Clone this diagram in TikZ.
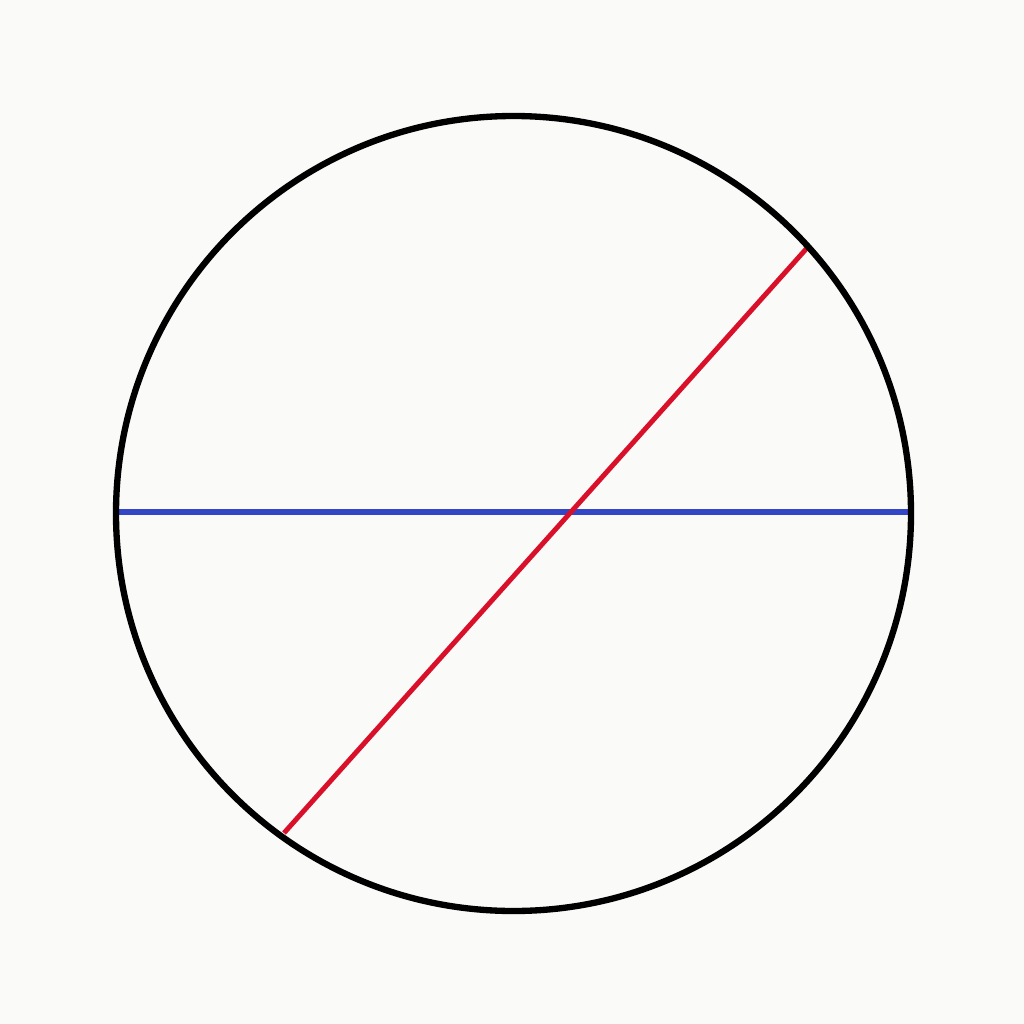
\documentclass[tikz,border=0pt]{standalone}
\usepackage{xcolor}
\usepackage{tikz}
\usetikzlibrary{calc}
\definecolor{paper}{HTML}{FAFAF8}
\definecolor{ink}{HTML}{000000}
\definecolor{chordblue}{HTML}{3446C8}
\definecolor{chordred}{HTML}{D8102A}
\tikzset{
  rim/.style={draw=ink,line width=3.6pt},
  diam/.style={draw=chordblue,line width=3.0pt},
  chord/.style={draw=chordred,line width=2.8pt}
}
\begin{document}
\begin{tikzpicture}[x=0.02cm,y=-0.02cm]
  \fill[paper] (0,0) rectangle (1024,1024);
  \useasboundingbox (0,0) rectangle (1024,1024);

  \coordinate (centre) at (513.5,513.5);
  \coordinate (westEnd) at (116,512);
  \coordinate (eastEnd) at (911,512);
  \coordinate (upperEnd) at (807,248);
  \coordinate (lowerEnd) at (284,833);

  \draw[diam] (westEnd) -- (eastEnd);
  \draw[chord] (upperEnd) -- (lowerEnd);
  \draw[rim] (centre) circle[radius=397.5];
\end{tikzpicture}
\end{document}
